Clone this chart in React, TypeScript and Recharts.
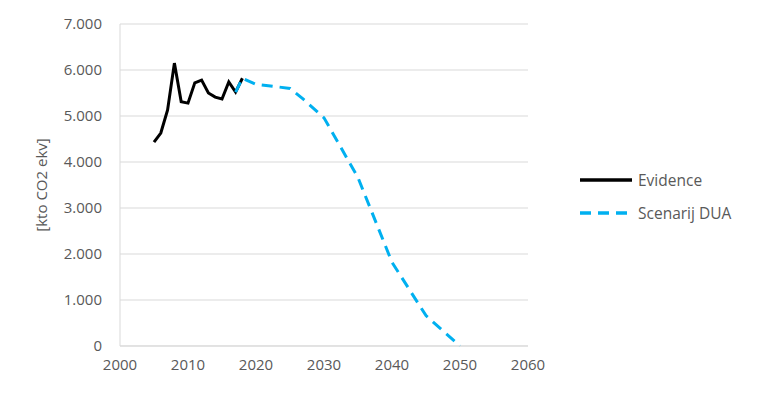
import { LineChart, Line, XAxis, YAxis, CartesianGrid } from 'recharts'

const evidenceYears = [2005, 2006, 2007, 2008, 2009, 2010, 2011, 2012, 2013, 2014, 2015, 2016, 2017, 2018]
const evidenceValues = [4430, 4630, 5130, 6150, 5310, 5280, 5720, 5780, 5500, 5410, 5370, 5740, 5520, 5820]

const scenarioYears = [2017, 2018, 2020, 2025, 2027, 2030, 2035, 2040, 2045, 2050]
const scenarioValues = [5520, 5820, 5690, 5600, 5360, 4960, 3660, 1820, 660, 0]

const xTicks = [2000, 2010, 2020, 2030, 2040, 2050, 2060]
const yTicks = [0, 1000, 2000, 3000, 4000, 5000, 6000, 7000]

const allYears = Array.from(new Set([...evidenceYears, ...scenarioYears])).sort((a, b) => a - b)
const data = allYears.map((year) => {
  const ei = evidenceYears.indexOf(year)
  const si = scenarioYears.indexOf(year)
  return {
    year,
    evidence: ei >= 0 ? evidenceValues[ei] : null,
    scenario: si >= 0 ? scenarioValues[si] : null,
  }
})

const font = '"Open Sans", sans-serif'
const textColor = '#595959'

function fmt(v: number) {
  return v === 0 ? '0' : v.toLocaleString('de-DE')
}

function LegendBox() {
  const items = [
    { label: 'Evidence', color: '#000000', dash: undefined },
    { label: 'Scenarij DUA', color: '#00B0F0', dash: '11 7' },
  ]
  return (
    <div style={{ position: 'absolute', left: 578, top: 163, fontFamily: font, fontSize: 15.5, color: textColor }}>
      {items.map((it) => (
        <div key={it.label} style={{ display: 'flex', alignItems: 'center', height: 33 }}>
          <svg width={56} height={10}>
            <line x1={2} y1={5} x2={54} y2={5} stroke={it.color} strokeWidth={3.5} strokeDasharray={it.dash} />
          </svg>
          <span style={{ marginLeft: 4 }}>{it.label}</span>
        </div>
      ))}
    </div>
  )
}

export default function App() {
  return (
    <div style={{ position: 'absolute', left: 0, top: 0, width: 764, height: 396, background: '#fff' }}>
      <LineChart width={764} height={396} data={data} margin={{ top: 24, right: 236, bottom: 20, left: 60 }}>
        <CartesianGrid vertical={false} stroke="#d9d9d9" />
        <XAxis
          dataKey="year"
          type="number"
          domain={[2000, 2060]}
          ticks={xTicks}
          tickLine={false}
          tickSize={0}
          tickMargin={13}
          height={30}
          stroke="#d9d9d9"
          tick={{ fill: textColor, fontSize: 15, fontFamily: font }}
        />
        <YAxis
          domain={[0, 7000]}
          ticks={yTicks}
          tickFormatter={fmt}
          tickLine={false}
          tickSize={0}
          tickMargin={18}
          width={60}
          stroke="#d9d9d9"
          tick={{ fill: textColor, fontSize: 15, fontFamily: font }}
          label={{
            value: '[kto CO2 ekv]',
            angle: -90,
            position: 'insideLeft',
            offset: -18,
            style: { fill: textColor, fontSize: 15, fontFamily: font, textAnchor: 'middle' },
          }}
        />
        <Line
          dataKey="evidence"
          name="Evidence"
          stroke="#000000"
          strokeWidth={3}
          dot={false}
          connectNulls
          isAnimationActive={false}
        />
        <Line
          dataKey="scenario"
          name="Scenarij DUA"
          stroke="#00B0F0"
          strokeWidth={3}
          strokeDasharray="11 7"
          dot={false}
          connectNulls
          isAnimationActive={false}
        />
      </LineChart>
      <LegendBox />
    </div>
  )
}
